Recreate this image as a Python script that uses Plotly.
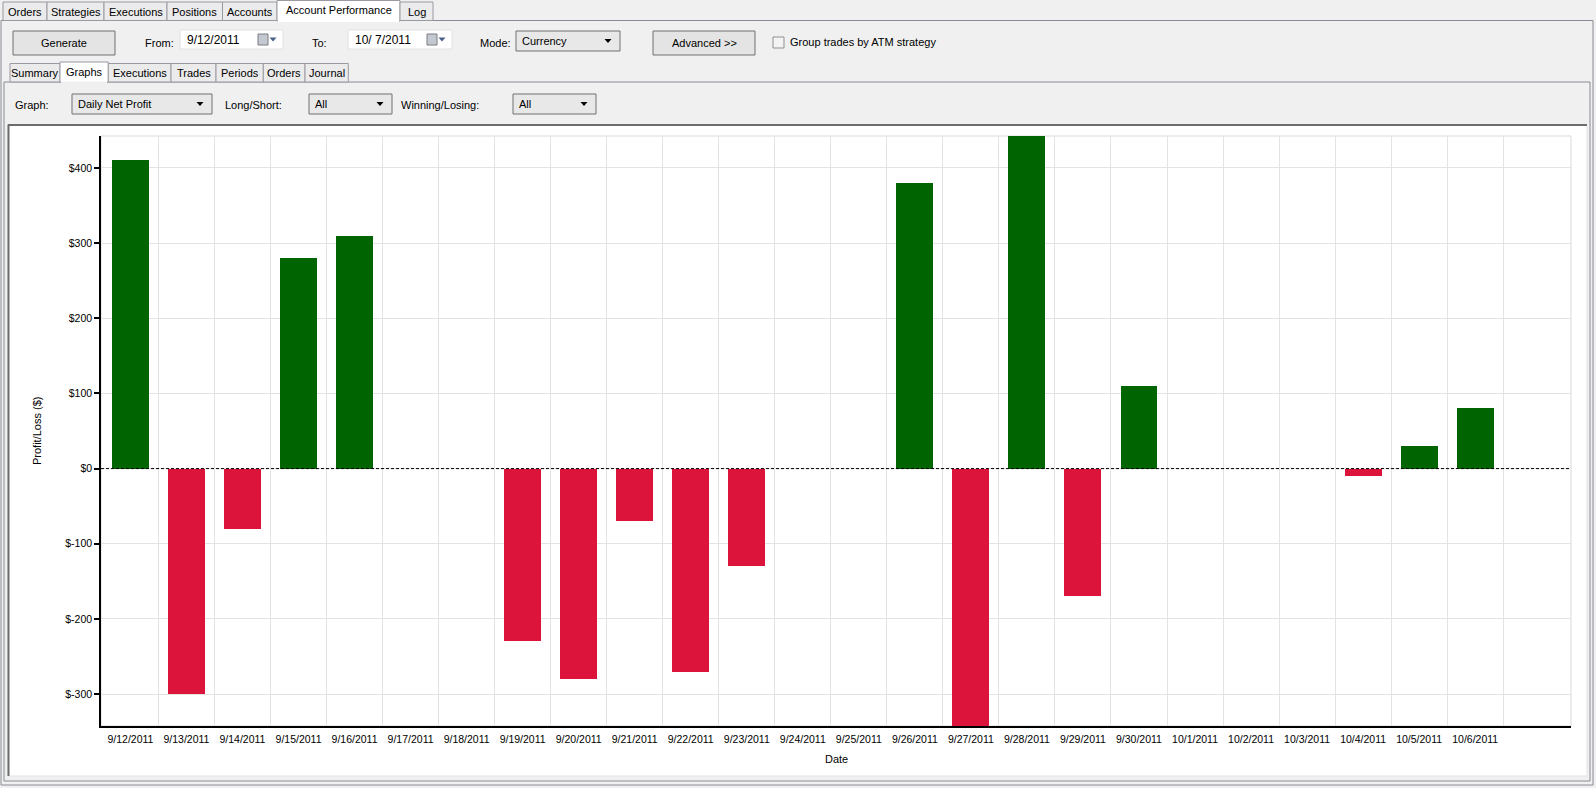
import plotly.graph_objects as go

# Daily net profit, Account Performance -> Graphs tab
DATES = ['9/12/2011', '9/13/2011', '9/14/2011', '9/15/2011', '9/16/2011', '9/17/2011', '9/18/2011',
         '9/19/2011', '9/20/2011', '9/21/2011', '9/22/2011', '9/23/2011', '9/24/2011', '9/25/2011',
         '9/26/2011', '9/27/2011', '9/28/2011', '9/29/2011', '9/30/2011', '10/1/2011', '10/2/2011',
         '10/3/2011', '10/4/2011', '10/5/2011', '10/6/2011']
PNL = [410, -300, -80, 280, 310, 0, 0,
       -230, -280, -70, -270, -130, 0, 0,
       380, -342.5, 442.5, -170, 110, 0, 0,
       0, -10, 30, 80]
Y_TICKS = [-300, -200, -100, 0, 100, 200, 300, 400]
Y_LABELS = ['$-300', '$-200', '$-100', '$0', '$100', '$200', '$300', '$400']

TOP_TABS = ['Orders', 'Strategies', 'Executions', 'Positions', 'Accounts', 'Account Performance', 'Log']
SUB_TABS = ['Summary', 'Graphs', 'Executions', 'Trades', 'Periods', 'Orders', 'Journal']

GREEN = '#006400'
RED = '#DC143C'
FONT = 'Liberation Sans'

W, H = 1596, 788
L, R, T, B = 101, 25, 136, 62
PW, PH = W - L - R, H - T - B


# pixel -> paper coordinates (paper is relative to the plot area)
def fx(x):
    return (x - L) / PW


def fy(y):
    return (H - B - y) / PH


shapes = []
annotations = []


def box(x0, y0, x1, y1, fill, line='#8c8c8c', w=1):
    shapes.append(dict(type='rect', xref='paper', yref='paper', x0=fx(x0), x1=fx(x1), y0=fy(y1), y1=fy(y0),
                       fillcolor=fill, line=dict(color=line, width=w), layer='below'))


def hline(x0, x1, y, color, w=1):
    shapes.append(dict(type='line', xref='paper', yref='paper', x0=fx(x0), x1=fx(x1), y0=fy(y), y1=fy(y),
                       line=dict(color=color, width=w), layer='below'))


def vline(x, y0, y1, color, w=1):
    shapes.append(dict(type='line', xref='paper', yref='paper', x0=fx(x), x1=fx(x), y0=fy(y0), y1=fy(y1),
                       line=dict(color=color, width=w), layer='below'))


def text(x, y, s, anchor='left', size=11):
    annotations.append(dict(xref='paper', yref='paper', x=fx(x), y=fy(y), text=s, showarrow=False,
                            xanchor=anchor, yanchor='middle', font=dict(family=FONT, size=size, color='#000000')))


def arrow(xc, yc, color='#000000'):
    path = 'M {} {} L {} {} L {} {} Z'.format(fx(xc - 3.5), fy(yc - 2), fx(xc + 3.5), fy(yc - 2), fx(xc), fy(yc + 2))
    shapes.append(dict(type='path', xref='paper', yref='paper', path=path, fillcolor=color,
                       line=dict(color=color, width=0), layer='below'))


def dropdown(x0, y0, x1, y1, s):
    box(x0, y0, x1, y1, '#e8e8e8', '#707070')
    text(x0 + 4, (y0 + y1) / 2, s)
    arrow(x1 - 12, (y0 + y1) / 2)


def datebox(x0, x1, s):
    box(x0, 30, x1, 49, '#ffffff', '#e2e2e2')
    text(x0 + 5, 40, s, size=12)
    box(x1 - 25, 34, x1 - 15, 45, '#c4c8d0', '#7c7c84')
    arrow(x1 - 10, 39.5, '#4a5f8a')


# outer panels
box(1, 20.5, 1593, 785, '#f0f0f0', '#898c95')
box(4, 82, 1590, 781, '#f0f0f0', '#898c95')

# top tab strip
top_edges = [3, 47, 104, 167, 222.5, 277, 400, 433]
for i, name in enumerate(TOP_TABS):
    sel = name == 'Account Performance'
    box(top_edges[i], 0.5 if sel else 2, top_edges[i + 1], 21 if sel else 20.5,
        '#ffffff' if sel else '#ebebeb', '#9a9aa2')
    text((top_edges[i] + top_edges[i + 1]) / 2, 10 if sel else 12, name, anchor='center')
hline(278, 399, 21, '#ffffff', 2)

# controls row
box(13, 31, 115, 55, '#e4e4e4', '#707070')
text(64, 43, 'Generate', anchor='center')
text(143, 43, 'From:')
datebox(180, 283, '9/12/2011')
text(310, 43, 'To:')
datebox(348, 452, '10/ 7/2011')
text(478, 43, 'Mode:')
dropdown(516, 31, 620, 51, 'Currency')
box(653, 31, 755, 55, '#e4e4e4', '#707070')
text(704, 43, 'Advanced >>', anchor='center')
box(773, 37, 784, 48, '#f4f4f4', '#8e8f8f')
text(788, 42, 'Group trades by ATM strategy')

# sub tab strip
sub_edges = [10, 60, 108.3, 171, 216, 263.3, 305, 348.3]
for i, name in enumerate(SUB_TABS):
    sel = name == 'Graphs'
    box(sub_edges[i], 62 if sel else 63.5, sub_edges[i + 1], 82.5 if sel else 82,
        '#ffffff' if sel else '#ebebeb', '#9a9aa2')
    text((sub_edges[i] + sub_edges[i + 1]) / 2, 72 if sel else 73, name, anchor='center')
hline(61, 107, 82.5, '#f0f0f0', 2)

# graph selector row
text(13, 105, 'Graph:')
dropdown(72, 94, 212, 114, 'Daily Net Profit')
text(223, 105, 'Long/Short:')
dropdown(309, 94, 392, 114, 'All')
text(399, 105, 'Winning/Losing:')
dropdown(513, 94, 596, 114, 'All')

# chart panel (sunken white box)
box(8, 124.5, 1587, 776, '#ffffff', '#e3e3e3')
hline(8, 1587, 125, '#6d6d6d', 2)
vline(8.5, 124.5, 776, '#6d6d6d', 2)

# light border round the plot area
shapes.append(dict(type='rect', xref='paper', yref='paper', x0=0, x1=1, y0=0, y1=1,
                   line=dict(color='#d9d9d9', width=1), layer='below'))

# dashed zero line
shapes.append(dict(type='line', xref='paper', yref='y', x0=0, x1=1, y0=0, y1=0,
                   line=dict(color='#000000', width=1, dash='3px,2px'), layer='above'))

# axis titles
annotations.append(dict(xref='paper', yref='paper', x=fx(37), y=0.5, text='Profit/Loss ($)', textangle=-90,
                        showarrow=False, xanchor='center', yanchor='middle',
                        font=dict(family=FONT, size=11, color='#000000')))
text(836, 759, 'Date', anchor='center')

idx = list(range(len(DATES)))
colors = [GREEN if v > 0 else RED for v in PNL]

fig = go.Figure(go.Bar(x=idx, y=PNL, width=0.66, marker=dict(color=colors, line=dict(width=0)),
                       hoverinfo='x+y'))

fig.update_layout(
    width=W, height=H, autosize=False,
    margin=dict(l=L, r=R, t=T, b=B, pad=0),
    paper_bgcolor='#f0f0f0', plot_bgcolor='#ffffff',
    showlegend=False, bargap=0,
    shapes=shapes, annotations=annotations,
    font=dict(family=FONT, size=11, color='#000000'),
)
fig.update_xaxes(
    range=[-0.525, 25.71], tickvals=idx, ticktext=DATES,
    showgrid=False, zeroline=False,
    ticks='outside', ticklen=3, tickcolor='rgba(0,0,0,0)',
    tickfont=dict(family=FONT, size=10.5, color='#000000'),
    showline=True, linecolor='#000000', linewidth=1.5,
    minor=dict(tickvals=[i + 0.5 for i in idx], showgrid=True, gridcolor='#e3e3e3', gridwidth=1, ticks=''),
)
fig.update_yaxes(
    range=[-342.5, 442.5], tickvals=Y_TICKS, ticktext=Y_LABELS,
    showgrid=True, gridcolor='#e3e3e3', gridwidth=1, zeroline=False,
    ticks='outside', ticklen=5, tickcolor='#000000', tickwidth=1.5,
    tickfont=dict(family=FONT, size=10.5, color='#000000'),
    showline=True, linecolor='#000000', linewidth=1.5,
)

# page has a default 8px body margin; drop it so the figure fills the window
fig.write_html('out.html', config={'displayModeBar': False},
               post_script="document.body.style.margin='0';document.body.style.overflow='hidden';")
